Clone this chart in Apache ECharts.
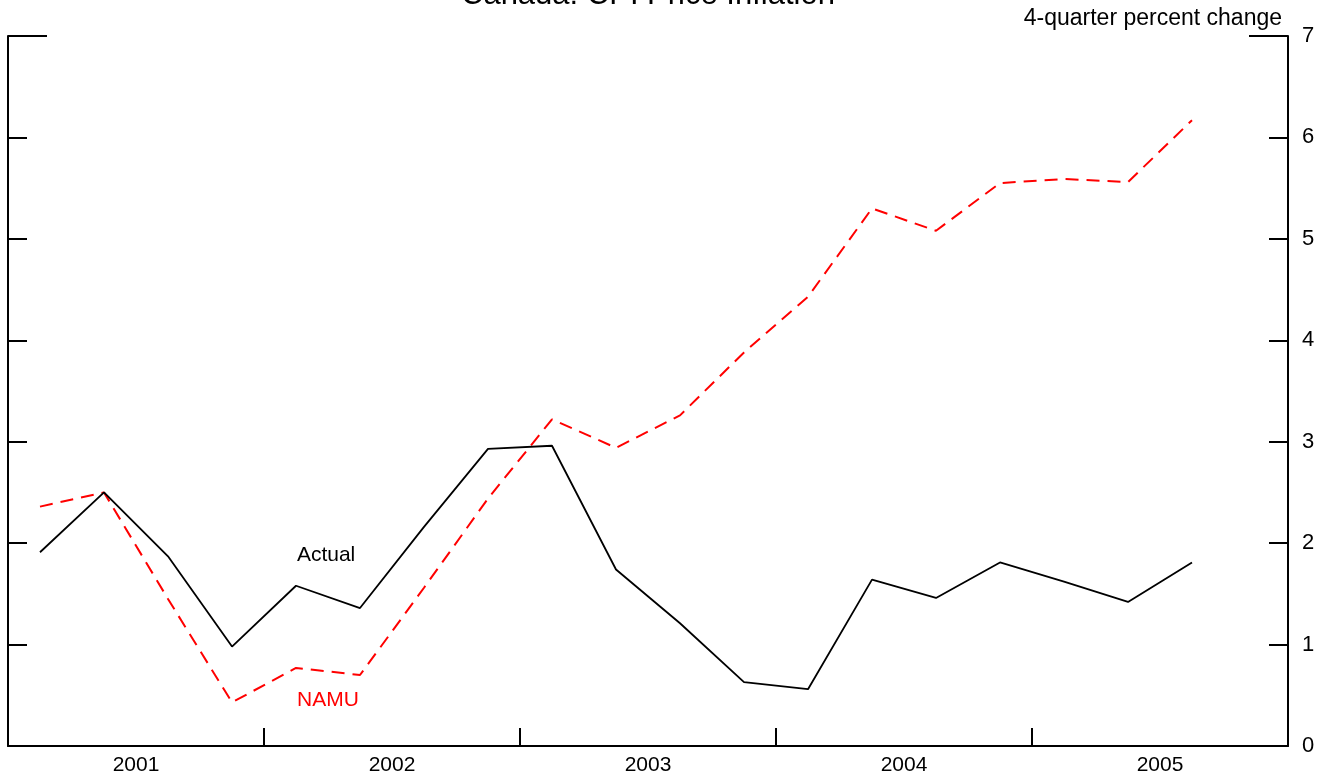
<!DOCTYPE html>
<html>
<head>
<meta charset="utf-8">
<script src="https://cdn.jsdelivr.net/npm/echarts@6/dist/echarts.min.js"></script>
<style>
html,body{margin:0;padding:0;background:#fff;}
#chart{width:1330px;height:781px;}
</style>
</head>
<body>
<div id="chart"></div>
<script>
// Quarterly observations, 2001Q1 - 2005Q3
const quarters = ['2001Q1','2001Q2','2001Q3','2001Q4','2002Q1','2002Q2','2002Q3','2002Q4',
  '2003Q1','2003Q2','2003Q3','2003Q4','2004Q1','2004Q2','2004Q3','2004Q4','2005Q1','2005Q2','2005Q3'];
const actual = [1.91, 2.50, 1.87, 0.98, 1.58, 1.36, 2.16, 2.93, 2.96, 1.74, 1.21, 0.63, 0.56, 1.64, 1.46, 1.81, 1.62, 1.42, 1.81];
const namu   = [2.36, 2.50, 1.45, 0.43, 0.77, 0.70, 1.56, 2.44, 3.22, 2.94, 3.26, 3.88, 4.43, 5.30, 5.08, 5.55, 5.59, 5.56, 6.17];
const yearLabels = ['2001','2002','2003','2004','2005'];
const yTicks = [0,1,2,3,4,5,6,7];
const titleText = 'Canada: CPI Price Inflation';
const unitText = '4-quarter percent change';

const FONT = '"Liberation Sans", Arial, Helvetica, sans-serif';
const chart = echarts.init(document.getElementById('chart'), null, {renderer:'canvas'});

const pts = arr => arr.map((v,i) => [i + 0.5, v]);
const AX = {color: '#000', width: 2};

const option = {
  backgroundColor: '#fff',
  animation: false,
  title: [
    {text: titleText, left: 461, top: -20, padding: 0,
     textStyle: {fontFamily: FONT, fontSize: 31, fontWeight: 'normal', color: '#000'}},
    {text: unitText, right: 48, top: 7, padding: 0,
     textStyle: {fontFamily: FONT, fontSize: 23, fontWeight: 'normal', color: '#000'}}
  ],
  grid: {left: 8, right: 42, top: 36, bottom: 35, containLabel: false},
  xAxis: [
    {type: 'value', min: 0, max: quarters.length + 1, interval: 2, position: 'bottom',
     axisLine: {show: true, onZero: false, lineStyle: AX},
     axisTick: {show: false}, splitLine: {show: false},
     axisLabel: {show: true, margin: 9, color: '#000', fontFamily: FONT, fontSize: 21,
       formatter: v => (v % 4 === 2) ? yearLabels[(v - 2) / 4] : ''}},
    {type: 'value', min: 0, max: quarters.length + 1, interval: 4, position: 'bottom',
     axisLine: {show: false, onZero: false},
     axisTick: {show: true, inside: true, length: 18, lineStyle: AX},
     axisLabel: {show: false}, splitLine: {show: false}}
  ],
  yAxis: [
    {type: 'value', min: 0, max: 7, interval: 1, position: 'left',
     axisLine: {show: true, onZero: false, lineStyle: AX},
     axisTick: {show: true, inside: true, length: 19, lineStyle: AX},
     axisLabel: {show: false}, splitLine: {show: false}},
    {type: 'value', min: 0, max: 7, interval: 1, position: 'right',
     axisLine: {show: true, onZero: false, lineStyle: AX},
     axisTick: {show: true, inside: true, length: 19, lineStyle: AX},
     axisLabel: {show: true, margin: 14, color: '#000', fontFamily: FONT, fontSize: 22,
       formatter: v => yTicks.includes(v) ? String(v) : ''},
     splitLine: {show: false}},
    {type: 'value', min: 0, max: 7, interval: 7, position: 'left',
     axisLine: {show: false, onZero: false},
     axisTick: {show: true, inside: true, length: 39, lineStyle: AX},
     axisLabel: {show: false}, splitLine: {show: false}},
    {type: 'value', min: 0, max: 7, interval: 7, position: 'right',
     axisLine: {show: false, onZero: false},
     axisTick: {show: true, inside: true, length: 39, lineStyle: AX},
     axisLabel: {show: false}, splitLine: {show: false}}
  ],
  series: [
    {name: 'NAMU', type: 'line', xAxisIndex: 0, yAxisIndex: 0, data: pts(namu),
     symbol: 'none', lineStyle: {color: '#ff0000', width: 2, type: [13, 8]},
     markPoint: {symbol: 'circle', symbolSize: 0, silent: true,
       data: [{coord: [5.0, 0.45], label: {show: true, formatter: 'NAMU', color: '#ff0000',
         fontFamily: FONT, fontSize: 21, position: 'inside'}}]}},
    {name: 'Actual', type: 'line', xAxisIndex: 0, yAxisIndex: 0, data: pts(actual),
     symbol: 'none', lineStyle: {color: '#000', width: 1.8},
     markPoint: {symbol: 'circle', symbolSize: 0, silent: true,
       data: [{coord: [4.97, 1.88], label: {show: true, formatter: 'Actual', color: '#000',
         fontFamily: FONT, fontSize: 21, position: 'inside'}}]}}
  ]
};
chart.setOption(option);
</script>
</body>
</html>
